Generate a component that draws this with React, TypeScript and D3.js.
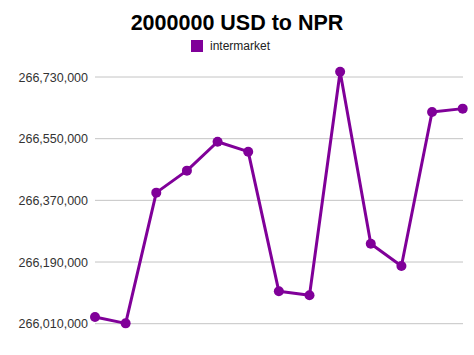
import React from 'react';
import * as d3 from 'd3';

const title = '2000000 USD to NPR';
const seriesName = 'intermarket';
const points = ['1', '2', '3', '4', '5', '6', '7', '8', '9', '10', '11', '12', '13'];
const values = [
  266029500, 266011000, 266392500, 266456700, 266541000, 266512000, 266104500,
  266093000, 266745500, 266243400, 266178300, 266627900, 266637700,
];
const yTicks = [266010000, 266190000, 266370000, 266550000, 266730000];

const W = 474;
const H = 355;
const color = '#800099';

export default function App() {
  const x = d3.scalePoint<string>().domain(points).range([95, 462.7]);
  const y = d3.scaleLinear().domain([266010000, 266730000]).range([323.7, 77]);

  const line = d3.line<number>()
    .x((_, i) => x(points[i]) as number)
    .y(d => y(d));

  const fmt = d3.format(',');

  return (
    <svg width={W} height={H} style={{ position: 'absolute', left: 0, top: 0, background: '#fff' }}
      fontFamily="'Liberation Sans', Arial, sans-serif">
      <text x={W / 2} y={30} textAnchor="middle" fontSize={21.5} fontWeight="bold" fill="#000">{title}</text>

      {/* legend */}
      <rect x={191} y={40} width={12} height={12} fill={color} />
      <text x={210} y={50} fontSize={12} fill="#222">{seriesName}</text>

      {/* grid + y labels */}
      {yTicks.map(t => (
        <g key={t}>
          <line x1={95} x2={463} y1={y(t)} y2={y(t)} stroke="#c4c4c4" strokeWidth={1} />
          <text x={88} y={y(t) + 4.5} textAnchor="end" fontSize={12.5} fill="#333">{fmt(t)}</text>
        </g>
      ))}

      <path d={line(values) ?? ''} fill="none" stroke={color} strokeWidth={3} strokeLinejoin="round" />
      {values.map((v, i) => (
        <circle key={i} cx={x(points[i])} cy={y(v)} r={5} fill={color} />
      ))}
    </svg>
  );
}
